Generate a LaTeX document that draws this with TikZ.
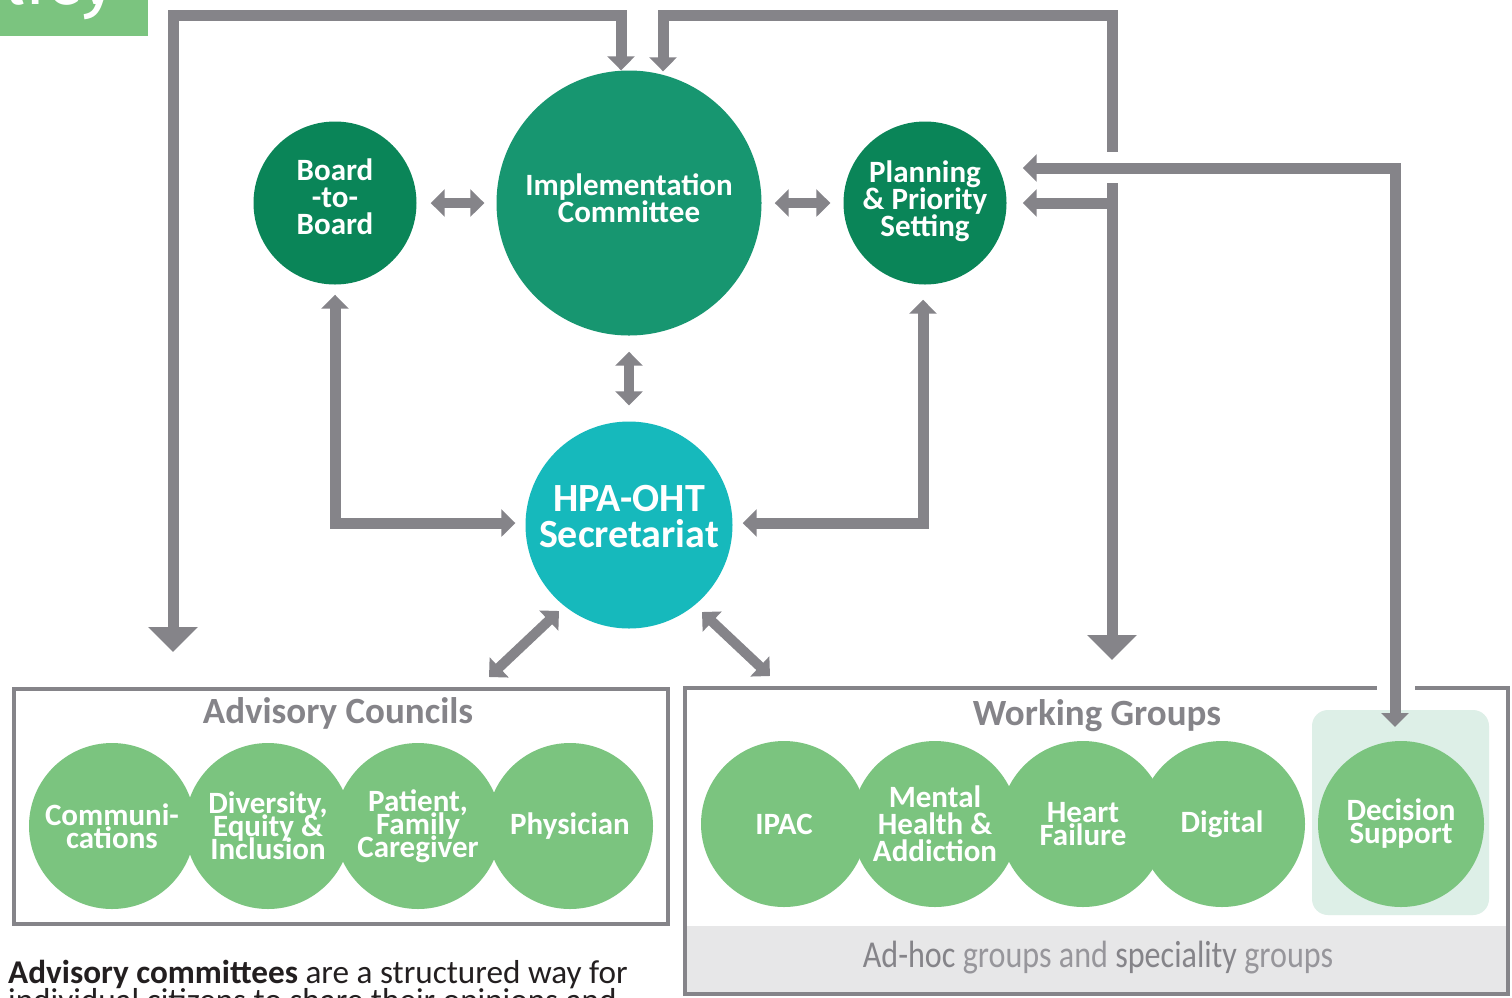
\documentclass[tikz,border=0pt]{standalone}
\usepackage{fontspec}
\setmainfont{Carlito}
\newfontfamily\condfont{Carlito}[FakeStretch=0.845]
\newfontfamily\cornerfont{Fira Sans}
\usetikzlibrary{arrows.meta,calc}
\newcommand\tightls{\lineskiplimit=-100pt\relax}
\definecolor{lgray}{HTML}{858489}
\definecolor{lgray2}{HTML}{97969B}
\definecolor{dgreen}{HTML}{0A8558}
\definecolor{mgreen}{HTML}{179670}
\definecolor{tealc}{HTML}{16B9BC}
\definecolor{lgreen}{HTML}{7BC47F}
\definecolor{bandc}{HTML}{E7E7E8}
\definecolor{hlc}{HTML}{DDEFE7}
\definecolor{inkc}{HTML}{231F20}
\tikzset{
  smallhead/.tip={Triangle[width=27pt,length=14pt]},
  bighead/.tip={Triangle[width=48pt,length=25pt]},
  conn/.style={draw=lgray, line width=11pt},
  dbl/.style={draw=lgray, line width=10pt, smallhead-smallhead},
  ringc/.style={circle, inner sep=0pt, text=white, align=center},
  disc/.style={circle, inner sep=0pt, minimum size=#1},
  toptext/.style={text=white, align=center, inner sep=0pt, font={\fontsize{31}{27}\selectfont\bfseries\tightls}},
  lowc/.style={ringc, fill=lgreen, minimum size=166pt, font={\fontsize{31}{23}\selectfont\bfseries\tightls}},
  ttl/.style={text=lgray, font={\fontsize{37}{40}\selectfont\bfseries}},
  boxc/.style={draw=lgray, line width=4.5pt},
  parac/.style={anchor=base west, inner sep=0pt, text=inkc, font={\fontsize{33.2}{28}\selectfont}},
}
\begin{document}
\begin{tikzpicture}[x=1pt,y=-1pt]
\useasboundingbox (0,0) rectangle (1512,997);
\clip (0,0) rectangle (1512,997);
\fill[white] (0,0) rectangle (1512,997);

% corner tab
\fill[lgreen] (0,0) rectangle (148,36);
\node[anchor=base east, text=white, font={\cornerfont\fontsize{72}{72}\selectfont}, inner sep=0pt] (tab) at (116,4) {Policy};

% boxes
\draw[boxc] (14,689) rectangle (668,924);
\fill[bandc] (686,926) rectangle (1507,992);
\draw[boxc] (685,688) rectangle (1508,994);
\fill[hlc, rounded corners=16pt] (1312,710) rectangle (1489,915);

% top nodes
\node[disc=163pt, fill=dgreen] (b2b) at (335,203) {};
\node[disc=265pt, fill=mgreen] (impl) at (629,203) {};
\node[disc=163pt, fill=dgreen] (plan) at (925,203) {};
\node[disc=207pt, fill=tealc] (hpa) at (629,525) {};
\node[toptext] (b2btext) at ($(b2b)+(0,-6)$) {Board\\-to-\\Board};
\node[toptext] (impltext) at ($(impl)+(0,-5)$) {Implementation\\Committee};
\node[toptext] (plantext) at ($(plan)+(0,-2)$) {Planning\\\& Priority\\Setting};
\node[text=white, align=center, inner sep=0pt, font={\fontsize{40}{36}\selectfont\bfseries\tightls}] (hpatext) at ($(hpa)+(0,-8)$) {HPA-OHT\\Secretariat};

% advisory councils
\node[ttl] (actitle) at (338,713) {Advisory Councils};
\node[lowc] (comm) at (112,826) {Communi-\\cations};
\node[lowc] (dei) at (268,826) {Diversity,\\Equity \&\\Inclusion};
\node[lowc] (pfc) at (418,826) {Patient,\\Family\\Caregiver};
\node[lowc] (phys) at (570,826) {Physician};

% working groups
\node[ttl] (wgtitle) at (1097,716) {Working Groups};
\node[lowc] (ipac) at (784,824) {IPAC};
\node[lowc, font={\fontsize{31}{27}\selectfont\bfseries\tightls}] (mha) at (935,824) {Mental\\Health \&\\Addiction};
\node[lowc] (hf) at (1083,824) {Heart\\Failure};
\node[lowc] (dig) at (1222,824) {Digital};
\node[lowc] (ds) at (1401,824) {Decision\\Support};
\node[font={\condfont\fontsize{38}{40}\selectfont}, text=lgray] (band) at (1098,958) {Ad-hoc \textcolor{lgray2}{groups and} speciality \textcolor{lgray2}{groups}};

% paragraph
\node[parac] (para1) at (8,983) {\textbf{Advisory committees} are a structured way for};
\node[parac] (para2) at (8,1011) {individual citizens to share their opinions and};

% free ends
\coordinate (acin) at (173,652);
\coordinate (wgin) at (1112,660);
\coordinate (wgbranch) at (1117.5,203);
\coordinate (dsin) at (1395,727);

% left loop
\draw[conn, bighead-smallhead] (acin) -- (173,15) -| ($(impl.north)+(-8,0)$);
% right loop
\draw[conn, bighead-smallhead] (wgin) -- (1112,15) -| ($(impl.north)+(34,1)$);
\draw[conn, -smallhead] (wgbranch) -- ($(plan.east)+(16,0)$);
% decision support loop with bridge gaps
\fill[white] (1100,152) rectangle (1125,183);
\fill[white] (1377,680) rectangle (1415,697);
\draw[conn, smallhead-smallhead] (dsin) -- (1395,168) -- ($(plan.east)+(16,-35)$);

% secretariat links
\draw[conn, smallhead-smallhead] ($(b2b.south)+(0,10)$) |- ($(hpa.west)+(-10,-2)$);
\draw[conn, smallhead-smallhead] ($(hpa.east)+(10,-2)$) -| ($(plan.south)+(-2,15)$);

% short double arrows
\draw[dbl] ($(b2b.east)+(14,0)$) -- ($(impl.west)+(-12,0)$);
\draw[dbl] ($(impl.east)+(13,0)$) -- ($(plan.west)+(-13,0)$);
\draw[dbl] ($(impl.south)+(0,16)$) -- ($(hpa.north)+(0,-16)$);
\draw[dbl] ($(hpa.center)+(-70,86)$) -- ($(hpa.center)+(-140,152)$);
\draw[dbl] ($(hpa.center)+(73,87)$) -- ($(hpa.center)+(141,151)$);
\end{tikzpicture}
\end{document}
